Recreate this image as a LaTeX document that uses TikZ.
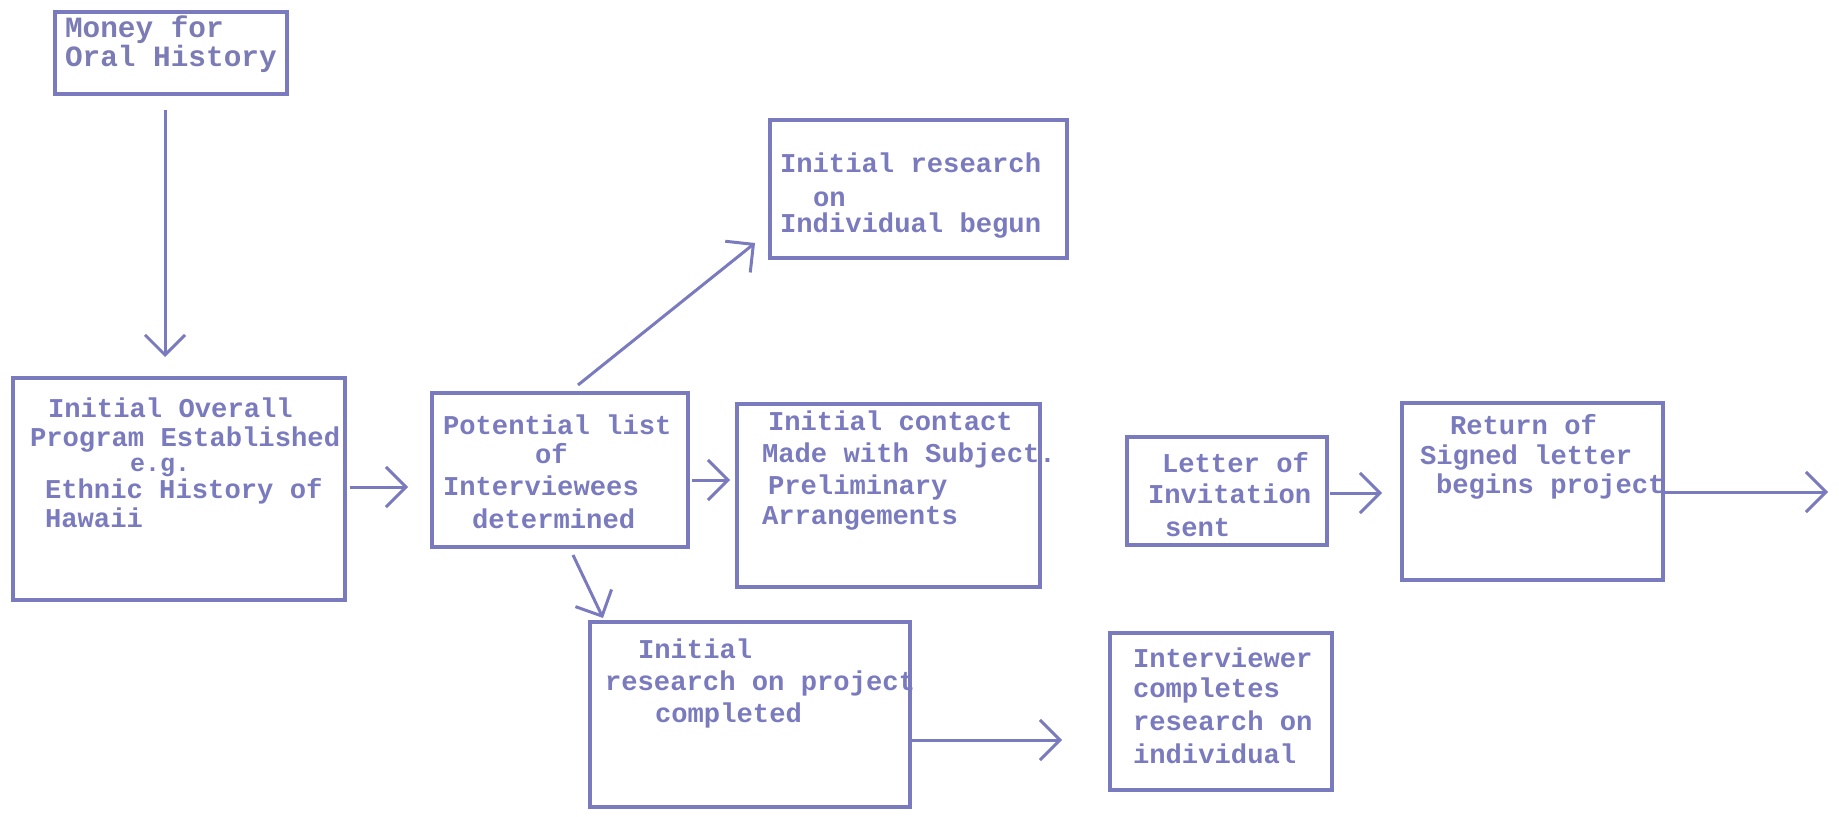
\documentclass[tikz,border=0pt]{standalone}
\usepackage{fontspec}
\setmainfont{Liberation Mono}
\usetikzlibrary{arrows.meta,calc}
\definecolor{ink}{RGB}{122,122,190}
\begin{document}
\begin{tikzpicture}[x=0.5pt,y=-0.5pt,
  boxst/.style={draw=ink, line width=1.6pt, rectangle, inner sep=0pt, outer sep=0pt},
  tl/.style={anchor=base west, inner sep=0pt, outer sep=0pt, text=ink, font=\fontsize{13.6}{16}\selectfont\bfseries},
  tlm/.style={tl, font=\fontsize{14.7}{16}\selectfont\bfseries, text=ink!85!gray},
  arr/.style={draw=ink, line width=1.5pt, -{Straight Barb[length=10pt,width=20pt,line width=1.5pt]}}]
\useasboundingbox (0,0) rectangle (1839,817);

% boxes
\node[boxst, minimum width=116pt, minimum height=41pt] (money) at (171,53) {};
\node[boxst, minimum width=166pt, minimum height=111pt] (overall) at (179,489) {};
\node[boxst, minimum width=128pt, minimum height=77pt] (potential) at (560,470) {};
\node[boxst, minimum width=148.5pt, minimum height=69pt] (indiv) at (918.5,189) {};
\node[boxst, minimum width=151.5pt, minimum height=91.5pt] (contact) at (888.5,495.5) {};
\node[boxst, minimum width=160pt, minimum height=92.5pt] (project) at (750,714.5) {};
\node[boxst, minimum width=111pt, minimum height=78.5pt] (interviewer) at (1221,711.5) {};
\node[boxst, minimum width=100pt, minimum height=54pt] (letter) at (1227,491) {};
\node[boxst, minimum width=130.5pt, minimum height=88.5pt] (return) at (1532.5,491.5) {};

% texts
\node[tlm] (m1) at (65,38) {Money for};
\node[tlm] (m2) at (65,67) {Oral History};

\node[tl] (o1) at (48,418) {Initial Overall};
\node[tl] (o2) at (30,446) {Program Established};
\node[tl, font=\fontsize{12.5}{14}\selectfont\bfseries] (o3) at (130,472) {e.g.};
\node[tl] (o4) at (45,498) {Ethnic History of};
\node[tl] (o5) at (45,527) {Hawaii};

\node[tl] (p1) at (443,435) {Potential list};
\node[tl] (p2) at (535,463) {of};
\node[tl] (p3) at (443,495) {Interviewees};
\node[tl] (p4) at (472,528) {determined};

\node[tl] (i1) at (780,173) {Initial research};
\node[tl] (i2) at (813,207) {on};
\node[tl] (i3) at (780,233) {Individual begun};

\node[tl] (c1) at (768,430) {Initial contact};
\node[tl] (c2) at (762,462) {Made with Subject.};
\node[tl] (c3) at (768,494) {Preliminary};
\node[tl] (c4) at (762,524) {Arrangements};

\node[tl] (r1) at (638,658) {Initial};
\node[tl] (r2) at (605,690) {research on project};
\node[tl] (r3) at (655,722) {completed};

\node[tl] (v1) at (1133,667) {Interviewer};
\node[tl] (v2) at (1133,697) {completes};
\node[tl] (v3) at (1133,730) {research on};
\node[tl] (v4) at (1133,763) {individual};

\node[tl] (l1) at (1162,473) {Letter of};
\node[tl] (l2) at (1148,503) {Invitation};
\node[tl] (l3) at (1165,536) {sent};

\node[tl] (s1) at (1450,435) {Return of};
\node[tl] (s2) at (1420,465) {Signed letter};
\node[tl] (s3) at (1436,493) {begins project};

% connectors
\coordinate (endpt) at (1828,492);
\draw[arr] ($(money.south)+(-6,16)$) -- ($(overall.north)+(-14,-21)$);
\draw[arr] ($(overall.east)+(5,-2)$) -- ($(potential.west)+(-24,17)$);
\draw[arr] ($(potential.north)+(18,-8)$) -- ($(indiv.south west)+(-15,-15)$);
\draw[arr] ($(potential.east)+(4,10)$) -- ($(contact.west)+(-7,-15.5)$);
\draw[arr] ($(potential.south)+(13,8)$) -- ($(project.north west)+(13,-4)$);
\draw[arr] ($(project.east)+(0,25.5)$) -- ($(interviewer.west)+(-48,28.5)$);
\draw[arr] ($(letter.east)+(3,2)$) -- ($(return.west)+(-20,1.5)$);
\draw[arr] ($(return.east)+(2,0.5)$) -- (endpt);
\end{tikzpicture}
\end{document}
